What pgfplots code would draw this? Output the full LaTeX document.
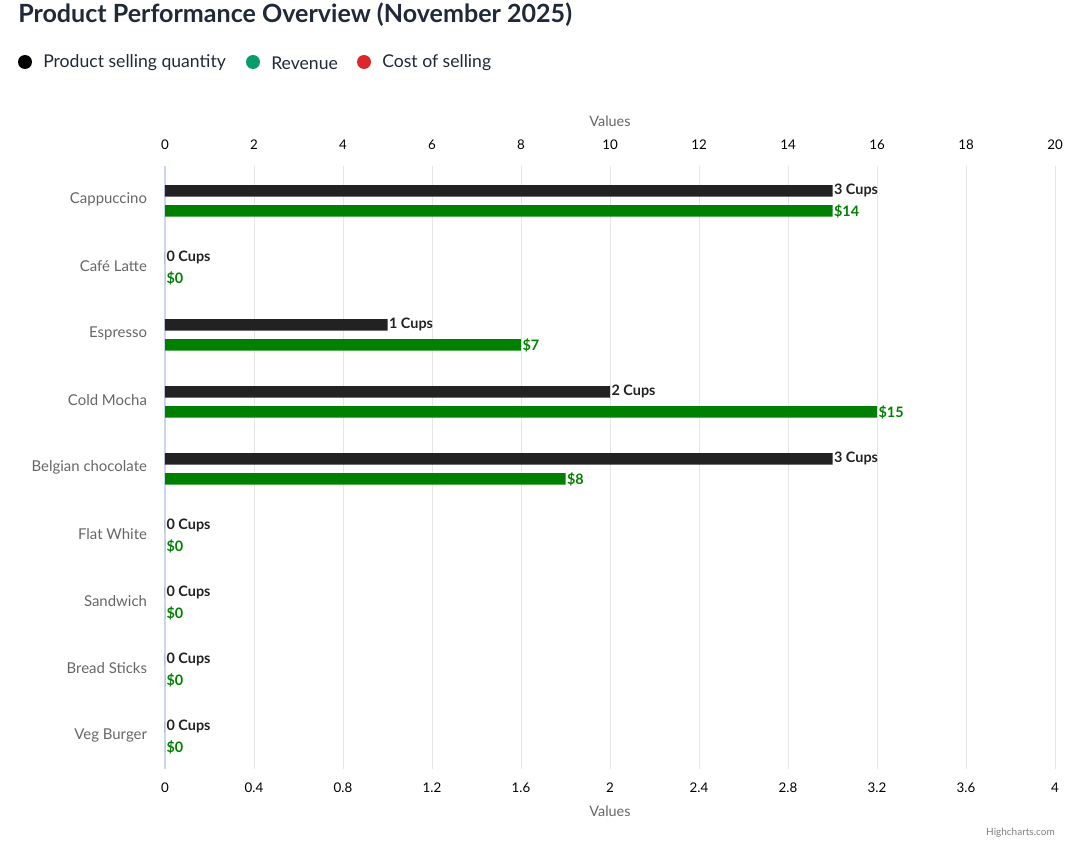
\documentclass[border=0pt]{standalone}
\usepackage{fontspec}
\setmainfont{Lato}
\usepackage{pgfplots}
\usepackage{pgfplotstable}
\pgfplotsset{compat=1.18}

\definecolor{qtybar}{HTML}{222222}
\definecolor{revbar}{HTML}{008000}
\definecolor{gridc}{HTML}{E6E6E6}
\definecolor{axisc}{HTML}{CCD6EB}
\definecolor{labc}{HTML}{666666}
\definecolor{titlec}{HTML}{1F2937}
\definecolor{legG}{HTML}{0C9B6C}
\definecolor{legR}{HTML}{DC2828}

% pos = category row, qty on bottom axis (0-4), rev bar on top axis (0-20)
\pgfplotstableread[col sep=comma]{
pos,qty,qlab,rev,rlab
0,3,3 Cups,15,\$14
1,0,0 Cups,0,\$0
2,1,1 Cups,8,\$7
3,2,2 Cups,16,\$15
4,3,3 Cups,9,\$8
5,0,0 Cups,0,\$0
6,0,0 Cups,0,\$0
7,0,0 Cups,0,\$0
8,0,0 Cups,0,\$0
}\datatable

\pgfplotsset{
  common/.style={
    at={(123.75pt,-124.5pt)}, anchor=north west,
    scale only axis, width=667.5pt, height=452.25pt,
    ymin=-0.5, ymax=8.5, y dir=reverse,
    axis line style={draw=none}, major tick length=0pt,
    /pgf/number format/assume math mode=true,
    tick label style={font=\fontsize{10}{11}\selectfont, text=black},
    label style={font=\fontsize{10.8}{12}\selectfont, text=labc},
    clip=false,
  },
  barlabels/.style={
    nodes near coords, point meta=explicit symbolic,
    every node near coord/.append style={font=\bfseries\fontsize{10.8}{12}\selectfont, inner sep=1pt, anchor=west},
  },
}

\begin{document}
\begin{tikzpicture}[x=0.75pt, y=-0.75pt]
\path[use as bounding box] (0,0) rectangle (1086,845);

% title and legend
\node[anchor=west, font=\bfseries\fontsize{18.8}{22}\selectfont, text=titlec, inner sep=0pt] at (18,15) {Product Performance Overview (November 2025)};
\fill[black] (25,62) circle (7);
\node[anchor=west, font=\fontsize{13.2}{15}\selectfont, text=titlec, inner sep=0pt] at (43,63) {Product selling quantity};
\fill[legG] (253,62) circle (7);
\node[anchor=west, font=\fontsize{13.2}{15}\selectfont, text=titlec, inner sep=0pt] at (271,63) {Revenue};
\fill[legR] (364,62) circle (7);
\node[anchor=west, font=\fontsize{13.2}{15}\selectfont, text=titlec, inner sep=0pt] at (382,63) {Cost of selling};

% quantity axis (bottom)
\begin{axis}[common,
  xmin=0, xmax=4,
  xtick={0,0.4,0.8,1.2,1.6,2,2.4,2.8,3.2,3.6,4},
  xticklabel style={/pgf/number format/fixed, yshift=-7pt},
  xmajorgrids, grid style={gridc, line width=0.75pt},
  xlabel={Values}, xlabel style={yshift=-3pt},
  ytick={0,...,8},
  yticklabels={Cappuccino, Café Latte, Espresso, Cold Mocha, Belgian chocolate, Flat White, Sandwich, Bread Sticks, Veg Burger},
  yticklabel style={font=\fontsize{11.2}{12}\selectfont, text=labc, xshift=-10pt},
]
\draw[axisc, line width=0.9pt] (rel axis cs:0,0) -- (rel axis cs:0,1);
\addplot[xbar, bar width=8.6pt, bar shift=0pt, fill=qtybar, draw=none,
  barlabels, every node near coord/.append style={text=qtybar}]
  table[x=qty, y expr=\thisrow{pos}-0.13, meta=qlab] {\datatable};
\end{axis}

% revenue axis (top)
\begin{axis}[common,
  xmin=0, xmax=20,
  xtick={0,2,...,20}, xticklabel pos=top,
  xticklabel style={yshift=9pt},
  xlabel={Values}, xlabel style={yshift=3pt},
  ytick=\empty,
]
\addplot[xbar, bar width=8.6pt, bar shift=0pt, fill=revbar, draw=none,
  barlabels, every node near coord/.append style={text=revbar}]
  table[x=rev, y expr=\thisrow{pos}+0.17, meta=rlab] {\datatable};
\end{axis}

\node[anchor=east, font=\fontsize{7.5}{9}\selectfont, text=gray, inner sep=0pt] at (1055,833) {Highcharts.com};
\end{tikzpicture}
\end{document}
